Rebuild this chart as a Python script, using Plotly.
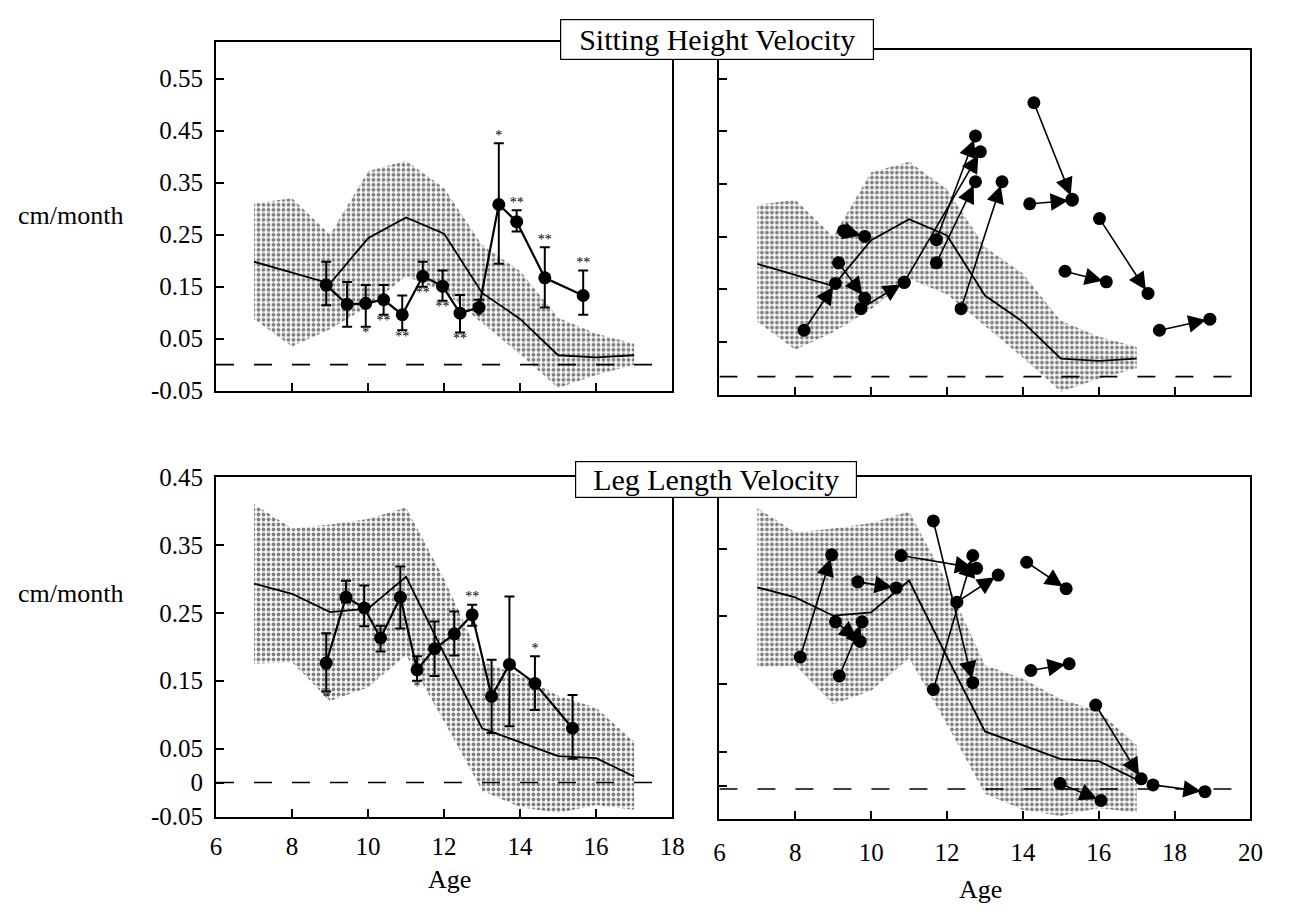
import plotly.graph_objects as go

# page body has an 8px default margin -> figure drawn 8px in from the window corner
OFF = 8
W, H = 1295 - OFF, 912 - OFF
FONT = "Liberation Serif"

# ---------------- data ----------------
band_ages = [7, 8, 9, 10, 11, 12, 13, 14, 15, 16, 17]

# Sitting height velocity reference band (cm/month)
sh_upper = [0.31, 0.32, 0.25, 0.372, 0.392, 0.34, 0.23, 0.18, 0.09, 0.06, 0.04]
sh_lower = [0.088, 0.035, 0.068, 0.112, 0.17, 0.14, 0.08, 0.02, -0.045, -0.02, 0.0]
sh_mean = [0.198, 0.177, 0.156, 0.243, 0.283, 0.252, 0.138, 0.088, 0.018, 0.014, 0.018]

# Leg length velocity reference band (cm/month)
ll_upper = [0.41, 0.374, 0.38, 0.388, 0.405, 0.30, 0.178, 0.158, 0.128, 0.11, 0.06]
ll_lower = [0.175, 0.177, 0.12, 0.14, 0.188, 0.09, -0.012, -0.036, -0.045, -0.033, -0.04]
ll_mean = [0.293, 0.278, 0.251, 0.256, 0.303, 0.19, 0.08, 0.059, 0.039, 0.036, 0.009]

# Group means with error bars (left panels)
sh_ages = [8.9, 9.45, 9.94, 10.41, 10.9, 11.44, 11.96, 12.42, 12.92, 13.44, 13.91, 14.65, 15.66]
sh_vals = [0.153, 0.116, 0.118, 0.125, 0.096, 0.170, 0.151, 0.099, 0.110, 0.308, 0.275, 0.167, 0.133]
sh_hi = [0.198, 0.159, 0.153, 0.153, 0.133, 0.198, 0.181, 0.134, 0.125, 0.426, 0.297, 0.226, 0.181]
sh_lo = [0.114, 0.073, 0.073, 0.096, 0.066, 0.150, 0.123, 0.062, 0.104, 0.194, 0.256, 0.110, 0.096]
sh_stars = ["", "", "*", "**", "**", "**", "**", "**", "*", "*", "**", "**", "**"]
sh_star_side = ["", "", "below", "below", "below", "below", "below", "below", "below",
                "above", "above", "above", "above"]

ll_ages = [8.9, 9.42, 9.9, 10.33, 10.85, 11.29, 11.75, 12.27, 12.74, 13.25, 13.72, 14.39, 15.38]
ll_vals = [0.176, 0.273, 0.257, 0.213, 0.273, 0.166, 0.197, 0.219, 0.247, 0.127, 0.174, 0.146, 0.080]
ll_hi = [0.220, 0.297, 0.290, 0.231, 0.318, 0.186, 0.237, 0.252, 0.262, 0.181, 0.274, 0.186, 0.129]
ll_lo = [0.134, 0.265, 0.230, 0.193, 0.227, 0.150, 0.157, 0.187, 0.231, 0.073, 0.083, 0.107, 0.035]
ll_stars = ["*", "", "", "", "", "*", "", "", "**", "", "", "*", ""]
ll_star_side = ["below", "", "", "", "", "below", "", "", "above", "", "", "above", ""]

# Individual trajectories (right panels): from (age, value) -> to (age, value)
sh_from_age = [8.23, 9.14, 9.27, 9.73, 10.87, 11.72, 11.72, 12.37, 14.29, 14.18, 16.02, 15.11, 17.6]
sh_from_val = [0.072, 0.200, 0.261, 0.113, 0.163, 0.244, 0.200, 0.113, 0.504, 0.312, 0.284, 0.184, 0.072]
sh_to_age = [9.06, 9.83, 9.83, 10.87, 12.88, 12.75, 12.75, 13.45, 15.3, 15.3, 17.3, 16.2, 18.93]
sh_to_val = [0.161, 0.133, 0.250, 0.163, 0.411, 0.441, 0.354, 0.354, 0.321, 0.319, 0.142, 0.164, 0.093]

ll_from_age = [8.13, 9.06, 9.16, 9.65, 10.79, 11.64, 11.64, 12.26, 14.1, 14.21, 15.92, 14.98, 17.43]
ll_from_val = [0.190, 0.242, 0.162, 0.301, 0.340, 0.391, 0.142, 0.271, 0.330, 0.170, 0.119, 0.003, 0.001]
ll_to_age = [8.96, 9.71, 9.76, 10.66, 12.78, 12.68, 12.68, 13.35, 15.14, 15.22, 17.12, 16.06, 18.8]
ll_to_val = [0.341, 0.213, 0.242, 0.292, 0.321, 0.152, 0.340, 0.311, 0.291, 0.180, 0.010, -0.022, -0.009]

# dashed reference level per panel
zero_tl, zero_tr, zero_bl, zero_br = 0.0, -0.016, 0.0, -0.005

# tick labels
sh_ticks = [-0.05, 0.05, 0.15, 0.25, 0.35, 0.45, 0.55]
sh_ticktext = ["-0.05", "0.05", "0.15", "0.25", "0.35", "0.45", "0.55"]
ll_ticks = [-0.05, 0, 0.05, 0.15, 0.25, 0.35, 0.45]
ll_ticktext = ["-0.05", "0", "0.05", "0.15", "0.25", "0.35", "0.45"]
left_xticks = [6, 8, 10, 12, 14, 16, 18]
right_xticks = [6, 8, 10, 12, 14, 16, 18, 20]


# ---------------- figure ----------------
def px_x(a, b):
    return [(a - OFF) / W, (b - OFF) / W]


def px_y(top, bottom):
    return [1 - (bottom - OFF) / H, 1 - (top - OFF) / H]


def pos(xp, yp):
    return dict(x=(xp - OFF) / W, y=1 - (yp - OFF) / H, xref="paper", yref="paper",
                xanchor="center", yanchor="middle", showarrow=False)


fig = go.Figure()

pattern = dict(shape=".", fgcolor="black", bgcolor="white", size=5, solidity=0.45)


def add_band(xa, ya, upper, lower, mean):
    fig.add_trace(go.Scatter(
        x=band_ages + band_ages[::-1], y=upper + lower[::-1],
        fill="toself", fillpattern=pattern, fillcolor="white",
        line=dict(width=0), mode="lines", xaxis=xa, yaxis=ya, hoverinfo="skip"))
    fig.add_trace(go.Scatter(
        x=band_ages, y=mean, mode="lines", line=dict(color="black", width=1.8),
        xaxis=xa, yaxis=ya))


def add_zero(xa, ya, level, x0, x1):
    fig.add_trace(go.Scatter(
        x=[x0, x1], y=[level, level], mode="lines",
        line=dict(color="black", width=1.6, dash="18px,20px"), xaxis=xa, yaxis=ya))


def add_group(xa, ya, ages, vals, hi, lo, stars, sides):
    fig.add_trace(go.Scatter(
        x=ages, y=vals, mode="lines+markers",
        line=dict(color="black", width=2.2),
        marker=dict(color="black", size=13),
        error_y=dict(type="data", symmetric=False,
                     array=[h - v for h, v in zip(hi, vals)],
                     arrayminus=[v - l for v, l in zip(vals, lo)],
                     color="black", thickness=2, width=5),
        xaxis=xa, yaxis=ya))
    for side, tp in (("above", "top center"), ("below", "bottom center")):
        sx, sy, st = [], [], []
        for a, h, l, s, sd in zip(ages, hi, lo, stars, sides):
            if s and sd == side:
                sx.append(a)
                sy.append(h if side == "above" else l)
                st.append(s)
        fig.add_trace(go.Scatter(
            x=sx, y=sy, text=st, mode="text", textposition=tp,
            textfont=dict(family=FONT, size=14, color="black"),
            xaxis=xa, yaxis=ya))


def add_arrows(xa, ya, fa, fv, ta, tv):
    fig.add_trace(go.Scatter(
        x=fa + ta, y=fv + tv, mode="markers",
        marker=dict(color="black", size=13), xaxis=xa, yaxis=ya))
    for a0, v0, a1, v1 in zip(fa, fv, ta, tv):
        fig.add_annotation(
            x=a1, y=v1, ax=a0, ay=v0, xref=xa, yref=ya, axref=xa, ayref=ya,
            showarrow=True, arrowhead=2, arrowsize=2.2, arrowwidth=1.6,
            arrowcolor="black", standoff=4, text="")


# Top-left: sitting height, group means
add_band("x", "y", sh_upper, sh_lower, sh_mean)
add_zero("x", "y", zero_tl, 6, 18)
add_group("x", "y", sh_ages, sh_vals, sh_hi, sh_lo, sh_stars, sh_star_side)

# Top-right: sitting height, individuals
add_band("x2", "y2", sh_upper, sh_lower, sh_mean)
add_zero("x2", "y2", zero_tr, 6, 20)
add_arrows("x2", "y2", sh_from_age, sh_from_val, sh_to_age, sh_to_val)

# Bottom-left: leg length, group means
add_band("x3", "y3", ll_upper, ll_lower, ll_mean)
add_zero("x3", "y3", zero_bl, 6, 18)
add_group("x3", "y3", ll_ages, ll_vals, ll_hi, ll_lo, ll_stars, ll_star_side)

# Bottom-right: leg length, individuals
add_band("x4", "y4", ll_upper, ll_lower, ll_mean)
add_zero("x4", "y4", zero_br, 6, 20)
add_arrows("x4", "y4", ll_from_age, ll_from_val, ll_to_age, ll_to_val)

tickfont = dict(family=FONT, size=25, color="black")


def ax_common(**kw):
    d = dict(showline=True, linecolor="black", linewidth=2, mirror=True,
             ticks="inside", ticklen=8, tickwidth=2, tickcolor="black",
             showgrid=False, zeroline=False, tickfont=tickfont, fixedrange=True)
    d.update(kw)
    return d


fig.update_layout(
    width=W, height=H, margin=dict(l=0, r=0, t=0, b=0),
    paper_bgcolor="white", plot_bgcolor="white", showlegend=False,
    xaxis=ax_common(domain=px_x(213, 676), range=[6, 18], anchor="y",
                    tickvals=left_xticks, showticklabels=False),
    yaxis=ax_common(domain=px_y(30, 389), range=[-0.05, 0.62], anchor="x",
                    tickvals=sh_ticks, ticktext=sh_ticktext, ticklabelstandoff=6),
    xaxis2=ax_common(domain=px_x(724, 1263), range=[6, 20], anchor="y2",
                     tickvals=right_xticks, showticklabels=False),
    yaxis2=ax_common(domain=px_y(38, 393), range=[-0.05, 0.604], anchor="x2",
                     tickvals=sh_ticks, showticklabels=False),
    xaxis3=ax_common(domain=px_x(213, 676), range=[6, 18], anchor="y3",
                     tickvals=left_xticks, ticklabelstandoff=6),
    yaxis3=ax_common(domain=px_y(478, 828), range=[-0.05, 0.45], anchor="x3",
                     tickvals=ll_ticks, ticktext=ll_ticktext, ticklabelstandoff=6),
    xaxis4=ax_common(domain=px_x(724, 1263), range=[6, 20], anchor="y4",
                     tickvals=right_xticks, ticklabelstandoff=10),
    yaxis4=ax_common(domain=px_y(478, 831), range=[-0.05, 0.456], anchor="x4",
                     tickvals=ll_ticks, showticklabels=False),
)

title_font = dict(family=FONT, size=30, color="black")
label_font = dict(family=FONT, size=26, color="black")

fig.add_annotation(text="Sitting Height Velocity", font=title_font,
                   bgcolor="white", bordercolor="black", borderwidth=1.2,
                   width=310, height=37, borderpad=1, **pos(722, 27.5))
fig.add_annotation(text="Leg Length Velocity", font=title_font,
                   bgcolor="white", bordercolor="black", borderwidth=1.2,
                   width=278, height=33, borderpad=1, **pos(721, 480.5))
for yy in (208, 598):
    fig.add_annotation(text="cm/month", font=label_font, **pos(65, yy))
fig.add_annotation(text="Age", font=label_font, **pos(450, 893))
fig.add_annotation(text="Age", font=label_font, **pos(989, 903))

fig.write_html("out.html")
